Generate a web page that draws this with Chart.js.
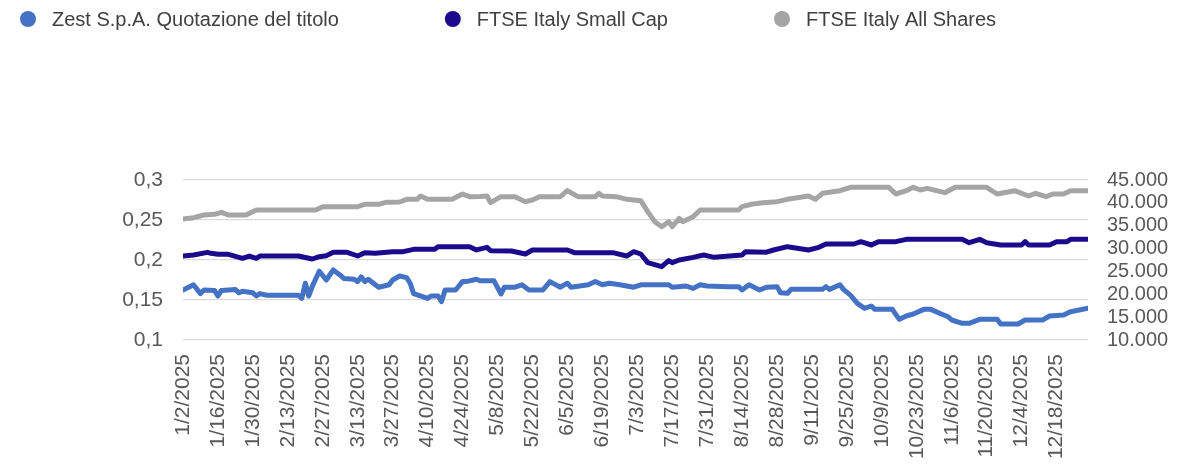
<!DOCTYPE html>
<html>
<head>
<meta charset="utf-8">
<script src="https://cdn.jsdelivr.net/npm/chart.js@4.4.1/dist/chart.umd.min.js"></script>
<style>
  html, body { margin: 0; padding: 0; background: #ffffff; }
  #wrap { width: 1186px; height: 466px; }
</style>
</head>
<body>
<div id="wrap"><canvas id="c" width="1186" height="466"></canvas></div>
<script>
// ---------- DATA ----------
const seriesNames = ['Zest S.p.A. Quotazione del titolo', 'FTSE Italy Small Cap', 'FTSE Italy All Shares'];

// x-axis tick labels (every 10 trading days, index 0 = 1/2/2025)
const tickLabels = ['1/2/2025','1/16/2025','1/30/2025','2/13/2025','2/27/2025','3/13/2025','3/27/2025',
  '4/10/2025','4/24/2025','5/8/2025','5/22/2025','6/5/2025','6/19/2025','7/3/2025','7/17/2025',
  '7/31/2025','8/14/2025','8/28/2025','9/11/2025','9/25/2025','10/9/2025','10/23/2025','11/6/2025',
  '11/20/2025','12/4/2025','12/18/2025'];
const lastDay = 259; // 12/31/2025 trading-day index

const leftTicks = [0.1, 0.15, 0.2, 0.25, 0.3];
const leftTickLabels = ['0,1', '0,15', '0,2', '0,25', '0,3'];
const rightTicks = [10000, 15000, 20000, 25000, 30000, 35000, 40000, 45000];
const rightTickLabels = ['10.000', '15.000', '20.000', '25.000', '30.000', '35.000', '40.000', '45.000'];

// Zest share price (left axis), by trading-day index
const zestDays = [0,3,5,6,9,10,11,15,16,17,20,21,22,24,33,34,35,36,37,39,41,43,45,46,49,50,51,52,53,56,59,60,62,64,65,66,70,71,73,74,75,78,80,81,84,85,89,91,92,95,97,99,103,105,108,110,111,116,118,120,122,125,129,131,139,140,144,146,148,150,156,159,160,162,165,167,170,171,173,174,183,184,185,188,189,191,193,195,197,198,203,205,207,209,212,214,217,219,220,223,225,228,233,234,236,239,241,246,248,252,254,259];
const zestPrice = [0.1625,0.169,0.158,0.1625,0.162,0.155,0.162,0.163,0.159,0.161,0.159,0.155,0.158,0.156,0.156,0.152,0.171,0.155,0.167,0.186,0.175,0.1875,0.181,0.177,0.176,0.173,0.179,0.173,0.176,0.166,0.169,0.175,0.18,0.178,0.171,0.158,0.152,0.155,0.155,0.148,0.1625,0.1625,0.173,0.173,0.176,0.174,0.174,0.1575,0.166,0.166,0.169,0.1625,0.1625,0.173,0.166,0.171,0.166,0.169,0.173,0.169,0.171,0.169,0.166,0.169,0.169,0.166,0.1675,0.1645,0.169,0.1675,0.1667,0.1667,0.1625,0.169,0.1625,0.166,0.1667,0.159,0.1583,0.1633,0.1633,0.1667,0.1633,0.169,0.1633,0.156,0.1458,0.1396,0.1425,0.1383,0.1383,0.1258,0.13,0.1325,0.1383,0.1383,0.1325,0.129,0.125,0.1208,0.1208,0.1258,0.1258,0.12,0.12,0.12,0.125,0.125,0.13,0.1313,0.1354,0.1396];

// FTSE Italy Small Cap (right axis)
const smallCapDays = [0,3,7,8,10,13,17,19,21,22,33,37,39,41,43,47,50,52,55,60,63,66,72,73,82,84,87,88,94,98,100,110,112,123,127,129,131,133,137,139,140,142,146,149,152,160,161,167,169,173,179,182,184,192,194,197,199,204,207,223,225,228,230,234,240,241,242,248,250,253,254,259];
const smallCapValue = [28374,28593,29177,28958,28739,28739,27864,28374,27864,28374,28374,27718,28228,28447,29177,29177,28374,29104,28958,29322,29322,29833,29833,30416,30416,29700,30270,29541,29468,28812,29687,29687,29104,29104,28374,29322,28812,26916,26041,27354,26916,27500,28083,28593,28083,28593,29322,29200,29687,30416,29687,30270,31000,31000,31510,30780,31510,31510,32020,32020,31291,32020,31291,30780,30780,31510,30780,30780,31510,31510,32020,32020];

// FTSE Italy All Shares (right axis)
const allSharesDays = [0,3,6,9,11,13,18,21,38,40,50,52,56,58,62,64,67,68,70,77,80,82,85,87,88,91,95,98,100,102,108,110,113,118,119,120,124,127,131,133,135,137,139,140,142,143,146,148,159,160,163,166,170,173,179,181,183,188,191,202,204,207,209,211,213,218,221,230,233,238,242,244,247,249,252,254,259];
const allSharesValue = [36468,36760,37343,37489,37927,37343,37343,38437,38437,39166,39166,39677,39677,40114,40187,40771,40771,41500,40771,40771,41937,41354,41400,41500,40041,41354,41354,40260,40625,41354,41354,42666,41354,41354,42083,41500,41354,40771,40479,38073,35885,34791,35885,34791,36614,35885,36979,38437,38437,39166,39750,40000,40260,40771,41500,40771,42083,42666,43396,43396,41937,42666,43396,42812,43177,42229,43396,43396,41937,42666,41500,42083,41354,41937,41937,42666,42666];

// ---------- CHART ----------
const colors = ['#4472C4', '#1B0A8C', '#A5A5A5'];
const FONT = '"Liberation Sans", Arial, sans-serif';

function toPoints(days, vals) { return days.map((d, i) => ({ x: d, y: vals[i] })); }

const lineStyle = { borderWidth: 5, pointRadius: 0, pointHoverRadius: 0, tension: 0,
  borderJoinStyle: 'round', borderCapStyle: 'round', fill: false };

const customLegend = {
  id: 'customLegend',
  afterDraw(chart) {
    const ctx = chart.ctx;
    ctx.save();
    ctx.font = '20px ' + FONT;
    ctx.textBaseline = 'middle';
    ctx.textAlign = 'left';
    let x = 20;
    const y = 19;
    chart.data.datasets.forEach((ds) => {
      ctx.beginPath();
      ctx.fillStyle = ds.borderColor;
      ctx.arc(x + 8, y, 8, 0, Math.PI * 2);
      ctx.fill();
      ctx.fillStyle = '#404040';
      ctx.fillText(ds.label, x + 32, y + 1);
      x += 32 + ctx.measureText(ds.label).width + 106;
    });
    ctx.restore();
  }
};

new Chart(document.getElementById('c'), {
  type: 'line',
  data: {
    datasets: [
      Object.assign({ label: seriesNames[0], data: toPoints(zestDays, zestPrice), borderColor: colors[0], backgroundColor: colors[0], yAxisID: 'y' }, lineStyle),
      Object.assign({ label: seriesNames[1], data: toPoints(smallCapDays, smallCapValue), borderColor: colors[1], backgroundColor: colors[1], yAxisID: 'y1' }, lineStyle),
      Object.assign({ label: seriesNames[2], data: toPoints(allSharesDays, allSharesValue), borderColor: colors[2], backgroundColor: colors[2], yAxisID: 'y1' }, lineStyle)
    ]
  },
  options: {
    responsive: false,
    animation: false,
    devicePixelRatio: 1,
    layout: { padding: { top: 180, left: 0, right: 0, bottom: 0 } },
    plugins: { legend: { display: false }, tooltip: { enabled: false } },
    scales: {
      x: {
        type: 'linear', min: 0, max: lastDay,
        grid: { display: false }, border: { display: false },
        afterBuildTicks(s) { s.ticks = tickLabels.map((_, i) => ({ value: i * 10 })); },
        afterFit(s) { s.height = 126; },
        ticks: {
          autoSkip: false, maxRotation: 90, minRotation: 90, padding: 6,
          color: '#595959', font: { family: FONT, size: 21 },
          callback(v) { return tickLabels[Math.round(v / 10)]; }
        }
      },
      y: {
        position: 'left', min: 0.1, max: 0.3,
        grid: { color: '#D9D9D9', lineWidth: 1.3, drawTicks: false },
        border: { display: false },
        afterBuildTicks(s) { s.ticks = leftTicks.map(v => ({ value: v })); },
        afterFit(s) { s.width = 183; },
        ticks: {
          autoSkip: false, padding: 20, color: '#595959', font: { family: FONT, size: 21 },
          callback(v, i) { return leftTickLabels[i]; }
        }
      },
      y1: {
        position: 'right', min: 10000, max: 45000,
        grid: { drawOnChartArea: false, drawTicks: false },
        border: { display: false },
        afterBuildTicks(s) { s.ticks = rightTicks.map(v => ({ value: v })); },
        afterFit(s) { s.width = 98; },
        ticks: {
          autoSkip: false, padding: 19, color: '#595959', font: { family: FONT, size: 20 },
          callback(v, i) { return rightTickLabels[i]; }
        }
      }
    }
  },
  plugins: [customLegend]
});
</script>
</body>
</html>
